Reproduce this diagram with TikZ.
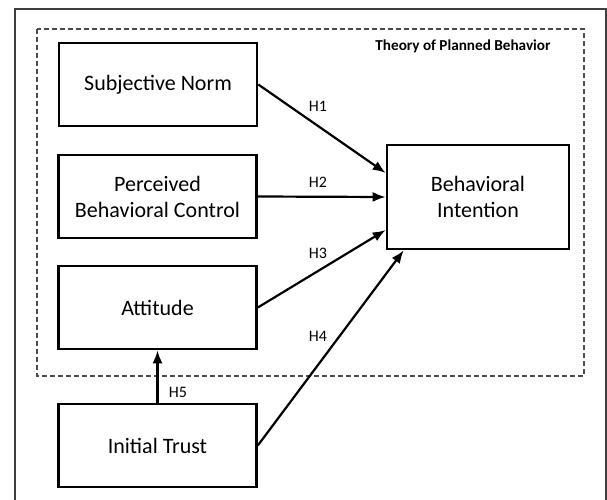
\documentclass[tikz,border=0pt]{standalone}
\usepackage{fontspec}
\setmainfont{Carlito}
\usetikzlibrary{arrows.meta,calc}
\tikzset{
    constr/.style={draw, line width=2.6pt, align=center, font=\fontsize{22}{26}\selectfont,
        minimum width=198pt, minimum height=83pt, inner sep=2pt},
    hyp/.style={-{Latex[length=13pt,width=10pt]}, line width=2.2pt},
    hlabel/.style={font=\fontsize{16}{18}\selectfont, inner sep=1pt},
}
\begin{document}
\begin{tikzpicture}[x=1pt, y=-1pt]
    \useasboundingbox (0,0) rectangle (607,500);
    \draw[line width=1.2pt, color=black!75] (15,520) -- (15,9) -- (606,9) -- (606,520);
    \draw[dashed, line width=1.6pt, color=black!70, dash pattern=on 5pt off 3pt] (37,29) rectangle (584,376);
    \node[font=\bfseries\fontsize{15.2}{17}\selectfont, anchor=east] (tpb) at (554,46) {Theory of Planned Behavior};
    % constructs
    \node[constr] (sn) at (158,84.5) {Subjective Norm};
    \node[constr] (pbc) at (157.5,196.5) {Perceived\\Behavioral Control};
    \node[constr] (att) at (157.5,307.5) {Attitude};
    \node[constr] (it) at (157.5,445.5) {Initial Trust};
    \node[constr, minimum width=182pt, minimum height=104pt] (bi) at (478,197) {Behavioral\\Intention};
    % hypotheses
    \draw[hyp] (sn.east) -- ($(bi.west)+(0,-24)$);
    \draw[hyp] (pbc.east) -- (bi.west);
    \draw[hyp] (att.east) -- ($(bi.west)+(0,33)$);
    \draw[hyp] (it.east) -- ($(bi.south west)+(18,0)$);
    \draw[hyp] (it.north) -- (att.south);
    \node[hlabel] (h1) at (318,106) {H1};
    \node[hlabel] (h2) at (318,182) {H2};
    \node[hlabel] (h3) at (318,253) {H3};
    \node[hlabel] (h4) at (318,336) {H4};
    \node[hlabel] (h5) at (178,392) {H5};
\end{tikzpicture}
\end{document}
